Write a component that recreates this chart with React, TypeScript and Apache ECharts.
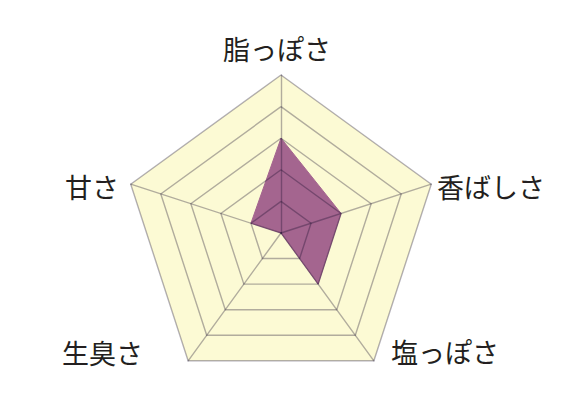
import React, { useEffect, useRef } from 'react';
import * as echarts from 'echarts';

// ECharts lays indicators out counter-clockwise from the top
const indicatorNames = ['脂っぽさ', '甘さ', '生臭さ', '塩っぽさ', '香ばしさ'];
const scoreValues = [3, 1, 0, 2, 2];
const maxScore = 5;

// where each name sits (x, y, align)
const labelPlaces: [number, number, string][] = [
  [277, 48, 'center'],
  [65, 186, 'left'],
  [62, 352, 'left'],
  [391, 351, 'left'],
  [437, 186, 'left'],
];

const FONT = '"Noto Sans CJK JP", "Noto Sans", sans-serif';

const App: React.FC = () => {
  const chartRef = useRef<HTMLDivElement>(null);

  useEffect(() => {
    if (!chartRef.current) return;
    const chart = echarts.init(chartRef.current, null, { renderer: 'svg' });

    const indicator = indicatorNames.map((name) => ({ name, max: maxScore, min: 0 }));
    const radarBase = {
      indicator,
      center: [281, 233],
      radius: 158,
      startAngle: 90,
      splitNumber: 5,
      shape: 'polygon',
      axisName: { show: false },
    };

    const option = {
      animation: false,
      backgroundColor: '#ffffff',
      radar: [
        {
          ...radarBase,
          z: 0,
          splitArea: { show: true, areaStyle: { color: ['#fcfad4'] } },
          splitLine: { show: false },
          axisLine: { show: false },
        },
        {
          // lines on top so they show through the purple area
          ...radarBase,
          z: 5,
          splitArea: { show: false },
          splitLine: { lineStyle: { color: 'rgba(20,10,40,0.32)', width: 1.4 } },
          axisLine: { lineStyle: { color: 'rgba(20,10,40,0.32)', width: 1.4 } },
        },
      ],
      graphic: indicatorNames.map((name, i) => ({
        type: 'text',
        x: labelPlaces[i][0],
        y: labelPlaces[i][1],
        z: 10,
        style: {
          text: name,
          font: `27px ${FONT}`,
          fill: '#231f20',
          align: labelPlaces[i][2],
          textAlign: labelPlaces[i][2],
          verticalAlign: 'middle',
          textVerticalAlign: 'middle',
        },
      })),
      series: [
        {
          type: 'radar',
          radarIndex: 0,
          z: 2,
          symbol: 'none',
          lineStyle: { color: '#a4658f', width: 1 },
          areaStyle: { color: '#a4658f', opacity: 1 },
          data: [{ value: scoreValues, name: '評価' }],
        },
      ],
    };

    chart.setOption(option);
    return () => {
      chart.dispose();
    };
  }, []);

  return (
    <div
      ref={chartRef}
      style={{ position: 'fixed', left: 0, top: 0, width: '586px', height: '415px' }}
    />
  );
};

export default App;
